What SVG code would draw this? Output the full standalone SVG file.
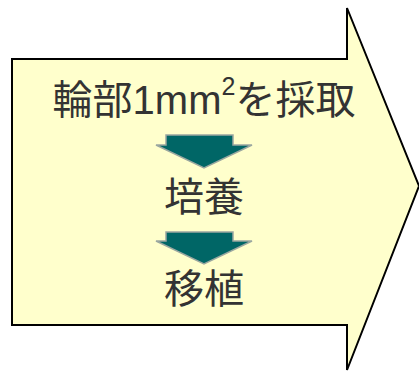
<svg xmlns="http://www.w3.org/2000/svg" width="419" height="371" viewBox="0 0 419 371">
<style>
.t{font-family:"Liberation Sans","Noto Sans CJK JP",sans-serif;font-size:40px;fill:#333333;text-anchor:middle}
.down{fill:#006666;stroke:#9aa7a0;stroke-width:1.5;stroke-linejoin:miter}
</style>
<rect width="419" height="371" fill="#ffffff"/>
<g id="big-arrow">
<polygon points="12,59 347,59 347,8 419,186 347,370 347,325 12,325" fill="#ffffcc" stroke="#000000" stroke-width="2"/>
</g>
<g id="step1"><text class="t" x="204" y="114">輪部1mm<tspan font-size="25" dy="-19">2</tspan><tspan dy="19">を採取</tspan></text></g>
<g id="step2"><text class="t" x="204" y="211">培養</text></g>
<g id="step3"><text class="t" x="204" y="303">移植</text></g>
<g id="connectors">
<polygon class="down" points="166,135 233,135 233,145 252,145 204,168 156,145 166,145"/>
<polygon class="down" points="166,232 233,232 233,241 252,241 204,264 156,241 166,241"/>
</g>
</svg>
